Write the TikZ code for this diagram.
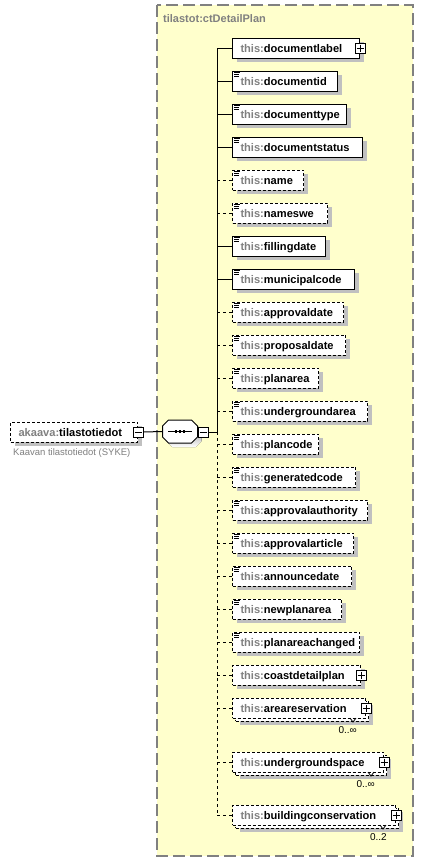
\documentclass[tikz,border=0pt]{standalone}
\usepackage{fontspec}
\setmainfont{Liberation Sans}
\usetikzlibrary{shadows}
\definecolor{planfill}{HTML}{FFFFCC}
\definecolor{shade}{HTML}{C0C0C0}
\definecolor{nsgray}{HTML}{808080}
\tikzset{
  conn/.style={draw=black, line width=1pt},
  optconn/.style={conn, dash pattern=on 3pt off 3pt},
  elbase/.style={draw=black, fill=white, line width=1pt, anchor=west,
    minimum height=20pt, inner xsep=8pt, inner ysep=0pt,
    text height=8.5pt, text depth=0.5pt,
    font=\fontsize{11.1}{13}\selectfont\bfseries},
  withshadow/.style={drop shadow={shadow xshift=4pt, shadow yshift=-4pt, fill=shade, opacity=1}},
  reqbox/.style={elbase, withshadow},
  optbox/.style={elbase, withshadow, dash pattern=on 3pt off 2pt},
  optflat/.style={elbase, dash pattern=on 3pt off 2pt},
  pmbox/.style={draw=black, fill=white, line width=1pt, minimum size=10pt, inner sep=0pt},
  pmline/.style={draw=black, line width=1pt},
  iconline/.style={draw=black, line width=0.8pt},
  multlabel/.style={font=\fontsize{10}{12}\selectfont, inner sep=0pt},
  ticks/.style={draw=black, line width=0.8pt}
}
\newcommand\elbox[5]{%
  \pgfmathsetmacro\tw{#3-248}%
  \node[#4] (#1) at (232,#2) {\makebox[\tw pt][l]{\textcolor{nsgray}{this:}#5}};}
\newcommand\simpleicon[1]{%
  \draw[iconline] ([shift={(2pt,-2pt)}]#1.north west) -- ++(6pt,0pt)
                  ([shift={(2pt,-3.8pt)}]#1.north west) -- ++(5pt,0pt)
                  ([shift={(2pt,-5.6pt)}]#1.north west) -- ++(5pt,0pt);}
\newcommand\plusbox[1]{%
  \node[pmbox] (#1-p) at (#1.east) {};
  \draw[pmline] ([xshift=2pt]#1-p.west) -- ([xshift=-2pt]#1-p.east)
                ([yshift=-2pt]#1-p.north) -- ([yshift=2pt]#1-p.south);}
\newcommand\minusbox[2]{%
  \node[pmbox] (#1) at (#2) {};
  \draw[pmline] ([xshift=2pt]#1.west) -- ([xshift=-2pt]#1.east);}
\newcommand\multiback[3]{%
  \pgfmathsetmacro\tw{#3-248}%
  \node[optbox] (#1-b) at ({235},{#2+3}) {\makebox[\tw pt]{}};}
\newcommand\multimark[4]{%
  \draw[ticks] ({#3-15},{#2+10}) -- ({#3-12},{#2+14}) -- ({#3-9},{#2+10});
  \node[multlabel, anchor=east] (#1-m) at ({#3-8},{#2+22}) {#4};}

\begin{document}
\begin{tikzpicture}[x=1pt, y=-1pt]
\useasboundingbox (0,0) rectangle (424,862);
\fill[white] (0,0) rectangle (424,862);

% container
\draw[draw=nsgray, line width=1.5pt, fill=planfill, dash pattern=on 12pt off 5pt] (157,5) rectangle (413,856);
\node[anchor=west, inner sep=0pt, text=nsgray, font=\fontsize{11}{13}\selectfont\bfseries] (ctlabel) at (163,19) {tilastot:ctDetailPlan};

% root element
\node[optbox] (root) at (10,432) {\makebox[111pt][l]{\textcolor{nsgray}{akaava:}tilastotiedot}};
\minusbox{root-m}{root.east}
\node[anchor=west, inner sep=0pt, text=nsgray, font=\fontsize{9.5}{11}\selectfont] (caption) at (13,453) {Kaavan tilastotiedot (SYKE)};

% sequence compositor
\node[minimum width=35pt, minimum height=23pt, inner sep=0pt] (seq) at (180,431.5) {};
\fill[shade, shift={(4,4)}] (168.5,420) -- (191.5,420) -- (197.5,426) -- (197.5,437) -- (191.5,443) -- (168.5,443) -- (162.5,437) -- (162.5,426) -- cycle;
\draw[fill=white, line width=1pt] (168.5,420) -- (191.5,420) -- (197.5,426) -- (197.5,437) -- (191.5,443) -- (168.5,443) -- (162.5,437) -- (162.5,426) -- cycle;
\draw[line width=1pt] ([xshift=-12pt]seq.center) -- ([xshift=12pt]seq.center);
\foreach \dx in {-4,0,4} \fill ([shift={(\dx pt-1.4pt,-1.4pt)}]seq.center) rectangle ++(2.8pt,2.8pt);
\minusbox{seq-m}{203,432}
\draw[conn] (root-m.east) -- (seq.west);

% bus
\coordinate (bus) at (217,48);
\coordinate (busmid) at (217,432);
\coordinate (busbot) at (217,815);
\draw[conn] (seq-m.east) -- (busmid);
\draw[conn] (bus) -- (busmid);
\draw[optconn] (busmid) -- (busbot);

% elements
\elbox{documentlabel}{48}{359}{reqbox}{documentlabel}
\plusbox{documentlabel}
\elbox{documentid}{81}{337}{reqbox}{documentid}
\simpleicon{documentid}
\elbox{documenttype}{114}{346}{reqbox}{documenttype}
\simpleicon{documenttype}
\elbox{documentstatus}{147}{362}{reqbox}{documentstatus}
\simpleicon{documentstatus}
\elbox{elname}{180}{303}{optbox}{name}
\simpleicon{elname}
\elbox{nameswe}{213}{327}{optbox}{nameswe}
\simpleicon{nameswe}
\elbox{fillingdate}{246}{325}{reqbox}{fillingdate}
\simpleicon{fillingdate}
\elbox{municipalcode}{279}{354}{reqbox}{municipalcode}
\simpleicon{municipalcode}
\elbox{approvaldate}{312}{343}{optbox}{approvaldate}
\simpleicon{approvaldate}
\elbox{proposaldate}{345}{345}{optbox}{proposaldate}
\simpleicon{proposaldate}
\elbox{planarea}{378}{318}{optbox}{planarea}
\simpleicon{planarea}
\elbox{undergroundarea}{411}{367}{optbox}{undergroundarea}
\simpleicon{undergroundarea}
\elbox{plancode}{444}{318}{optbox}{plancode}
\simpleicon{plancode}
\elbox{generatedcode}{477}{355}{optbox}{generatedcode}
\simpleicon{generatedcode}
\elbox{approvalauthority}{510}{367}{optbox}{approvalauthority}
\simpleicon{approvalauthority}
\elbox{approvalarticle}{543}{353}{optbox}{approvalarticle}
\simpleicon{approvalarticle}
\elbox{announcedate}{576}{351}{optbox}{announcedate}
\simpleicon{announcedate}
\elbox{newplanarea}{609}{341}{optbox}{newplanarea}
\simpleicon{newplanarea}
\elbox{planareachanged}{642}{359}{optbox}{planareachanged}
\simpleicon{planareachanged}
\elbox{coastdetailplan}{675}{360}{optbox}{coastdetailplan}
\plusbox{coastdetailplan}
\multiback{areareservation}{708}{365}
\elbox{areareservation}{708}{365}{optflat}{areareservation}
\plusbox{areareservation}
\multimark{areareservation}{708}{365}{0..∞}
\multiback{undergroundspace}{762}{383}
\elbox{undergroundspace}{762}{383}{optflat}{undergroundspace}
\plusbox{undergroundspace}
\multimark{undergroundspace}{762}{383}{0..∞}
\multiback{buildingconservation}{815}{395}
\elbox{buildingconservation}{815}{395}{optflat}{buildingconservation}
\plusbox{buildingconservation}
\multimark{buildingconservation}{815}{395}{0..2}

% connectors from bus
\foreach \n in {documentlabel,documentid,documenttype,documentstatus,fillingdate,municipalcode}
  \draw[conn] (bus |- \n.west) -- (\n.west);
\foreach \n in {elname,nameswe,approvaldate,proposaldate,planarea,undergroundarea,plancode,generatedcode,approvalauthority,approvalarticle,announcedate,newplanarea,planareachanged,coastdetailplan,areareservation,undergroundspace,buildingconservation}
  \draw[optconn] (bus |- \n.west) -- (\n.west);
\end{tikzpicture}
\end{document}
